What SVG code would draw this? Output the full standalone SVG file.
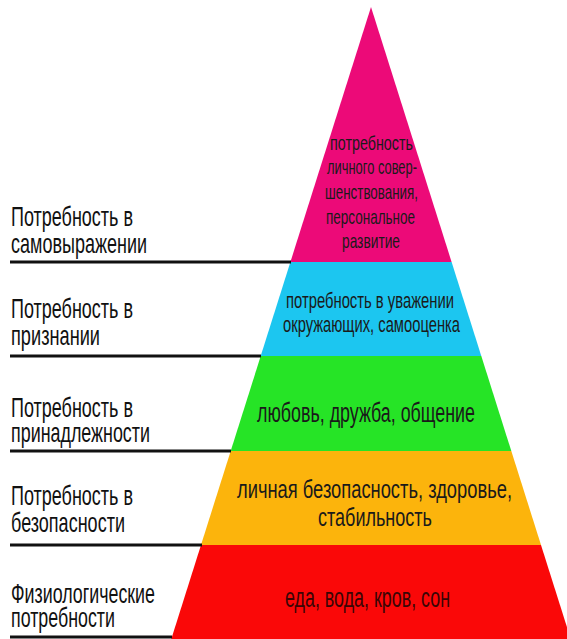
<svg xmlns="http://www.w3.org/2000/svg" width="567" height="639" viewBox="0 0 567 639">
<style>
.lbl{font-family:"Liberation Sans",Arial,sans-serif;font-size:28px;fill:#111}
.in{font-family:"Liberation Sans",Arial,sans-serif;fill:#1a1a1a;text-anchor:start}
.ln{stroke:#111;stroke-width:3;fill:none}
</style>
<rect width="567" height="639" fill="#ffffff"/>
<g id="level5">
<polygon points="371,7 451.6,262 290.4,262" fill="#EC0A78"/>
<g class="in" font-size="21">
<text x="330" y="150" textLength="83" lengthAdjust="spacingAndGlyphs">потребность</text>
<text x="327" y="174" textLength="90" lengthAdjust="spacingAndGlyphs">личного совер-</text>
<text x="325" y="199" textLength="93" lengthAdjust="spacingAndGlyphs">шенствования,</text>
<text x="326" y="224" textLength="89" lengthAdjust="spacingAndGlyphs">персональное</text>
<text x="342" y="248" textLength="58" lengthAdjust="spacingAndGlyphs">развитие</text>
</g>
<text class="lbl" x="11" y="226" textLength="122" lengthAdjust="spacingAndGlyphs">Потребность в</text>
<text class="lbl" x="11" y="253" textLength="136" lengthAdjust="spacingAndGlyphs">самовыражении</text>
</g>
<g id="level4">
<polygon points="290.4,262 451.6,262 481.3,356 260.7,356" fill="#1CC6F0"/>
<g class="in" font-size="22">
<text x="286" y="308" textLength="168" lengthAdjust="spacingAndGlyphs">потребность в уважении</text>
<text x="283" y="332" textLength="177" lengthAdjust="spacingAndGlyphs">окружающих, самооценка</text>
</g>
<text class="lbl" x="11" y="318" textLength="122" lengthAdjust="spacingAndGlyphs">Потребность в</text>
<text class="lbl" x="11" y="345" textLength="89" lengthAdjust="spacingAndGlyphs">признании</text>
</g>
<g id="level3">
<polygon points="260.7,356 481.3,356 511.3,451 230.7,451" fill="#26E426"/>
<text class="in" font-size="27" x="257" y="422" textLength="218" lengthAdjust="spacingAndGlyphs">любовь, дружба, общение</text>
<text class="lbl" x="11" y="417" textLength="122" lengthAdjust="spacingAndGlyphs">Потребность в</text>
<text class="lbl" x="11" y="442" textLength="139" lengthAdjust="spacingAndGlyphs">принадлежности</text>
</g>
<g id="level2">
<polygon points="230.7,451 511.3,451 541,545 201,545" fill="#FCB40C"/>
<text class="in" font-size="26" x="237" y="498" textLength="275" lengthAdjust="spacingAndGlyphs">личная безопасность, здоровье,</text>
<text class="in" font-size="26" x="318" y="526" textLength="114" lengthAdjust="spacingAndGlyphs">стабильность</text>
<text class="lbl" x="11" y="505" textLength="122" lengthAdjust="spacingAndGlyphs">Потребность в</text>
<text class="lbl" x="11" y="532" textLength="114" lengthAdjust="spacingAndGlyphs">безопасности</text>
</g>
<g id="level1">
<polygon points="201,545 541,545 570.7,639 171.3,639" fill="#FA0808"/>
<text class="in" font-size="27" x="285" y="607" textLength="165" lengthAdjust="spacingAndGlyphs" style="fill:#3a0505">еда, вода, кров, сон</text>
<text class="lbl" x="11" y="603" textLength="144" lengthAdjust="spacingAndGlyphs">Физиологические</text>
<text class="lbl" x="11" y="627" textLength="104" lengthAdjust="spacingAndGlyphs">потребности</text>
</g>
<g id="connectors">
<line class="ln" x1="10" y1="262" x2="291" y2="262"/>
<line class="ln" x1="10" y1="356" x2="261" y2="356"/>
<line class="ln" x1="10" y1="451" x2="231" y2="451"/>
<line class="ln" x1="10" y1="545" x2="202" y2="545"/>
<line class="ln" x1="10" y1="637" x2="172" y2="637"/>
</g>
</svg>
